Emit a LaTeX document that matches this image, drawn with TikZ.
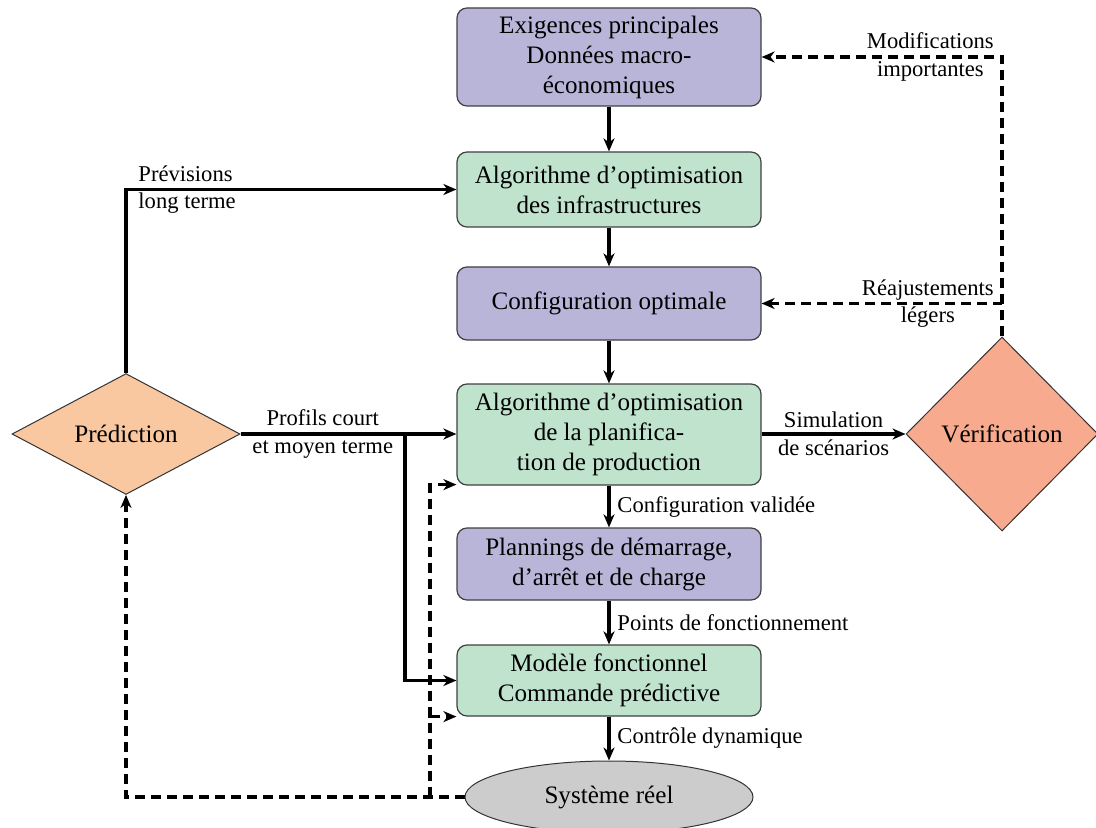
\documentclass[tikz,border=0pt]{standalone}
\usepackage{fontspec}
\setmainfont{Liberation Serif}
\usetikzlibrary{shapes.geometric,arrows.meta,calc}
\definecolor{cpurple}{RGB}{185,181,217}
\definecolor{cgreen}{RGB}{192,227,205}
\definecolor{corange}{RGB}{250,200,160}
\definecolor{csalmon}{RGB}{247,170,142}
\definecolor{cgray}{RGB}{204,204,204}
\newcommand{\MainSz}{\fontsize{12.55}{15}\selectfont}
\newcommand{\LblSz}{\fontsize{11.3}{13.8}\selectfont}
\begin{document}
\begin{tikzpicture}[x=0.5pt,y=-0.5pt,
  box/.style={rectangle, rounded corners=5pt, draw=black!75, line width=0.6pt,
    minimum width=152pt, align=center, inner sep=2pt, font=\MainSz},
  pbox/.style={box, fill=cpurple},
  gbox/.style={box, fill=cgreen},
  dia/.style={diamond, draw=black!80, line width=0.5pt, inner sep=0pt, font=\MainSz},
  lbl/.style={font=\LblSz, align=center, inner sep=3.33pt},
  arr/.style={-{Stealth[length=6.5pt,width=5.5pt,inset=2pt]}},
  sline/.style={line width=1.8pt, arr},
  dline/.style={line width=1.6pt, dash pattern=on 5pt off 3pt, arr}
]
\useasboundingbox (0,0) rectangle (1096,828);

\node[pbox, minimum height=49pt] (b1) at (609,57) {Exigences principales\\Données macro-\\économiques};
\node[gbox, minimum height=37.5pt] (b2) at (609,189.5) {Algorithme d’optimisation\\des infrastructures};
\node[pbox, minimum height=36.5pt] (b3) at (609,303.5) {Configuration optimale};
\node[gbox, minimum height=50.5pt] (b4) at (609,434.5) {Algorithme d’optimisation\\de la planifica-\\tion de production};
\node[pbox, minimum height=36pt] (b5) at (609,564) {Plannings de démarrage,\\d’arrêt et de charge};
\node[gbox, minimum height=35.5pt] (b6) at (609,680.5) {Modèle fonctionnel\\Commande prédictive};
\node[ellipse, draw=black!80, line width=0.5pt, fill=cgray, minimum width=144pt, minimum height=36pt, font=\MainSz] (sys) at (609,797) {Système réel};

\node[dia, fill=corange, minimum width=114pt, minimum height=57pt] (pred) at (126,434) {Prédiction};
\node[dia, fill=csalmon, minimum width=96pt, minimum height=97pt] (verif) at (1002,434) {Vérification};

% main vertical flow
\draw[sline] (b1) -- (b2);
\draw[sline] (b2) -- (b3);
\draw[sline] (b3) -- (b4);
\draw[sline] (b4) -- node[lbl, right] {Configuration validée} (b5);
\draw[sline] (b5) -- node[lbl, right] {Points de fonctionnement} (b6);
\draw[sline] (b6) -- node[lbl, right] {Contrôle dynamique} (sys);

% prediction
\draw[sline] (pred.north) |- node[lbl, pos=0.5, right, align=left, xshift=2pt] {Prévisions\\long terme} (b2.west);
\coordinate (br) at (405,434);
\draw[sline] (pred.east) -- node[lbl] {Profils court\\et moyen terme} (br) -- (b4.west |- br);
\draw[sline] (br) |- (b6.west);

% verification
\draw[sline] (b4.east |- verif.west) -- node[lbl] {Simulation\\de scénarios} (verif.west);
\draw[dline] (verif.north) |- node[lbl, pos=0.5, left] {Modifications\\importantes} (b1.east);
\draw[dline] (verif.north) |- node[lbl, pos=0.5, left] {Réajustements\\légers} (b3.east);

% feedback from real system
\coordinate (dv) at (430,797);
\draw[dline] (sys.west) -| (pred.south);
\draw[dline] (dv) |- ($(b4.south west)+(0,-1)$);
\draw[dline] (dv) |- (b6.south west);
\end{tikzpicture}
\end{document}
